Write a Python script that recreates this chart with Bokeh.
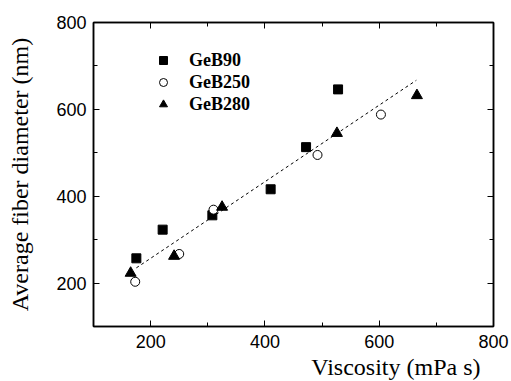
from bokeh.plotting import figure
from bokeh.models import (LinearAxis, Range1d, Legend, LegendItem, Title,
                          FixedTicker)
from bokeh.embed import file_html
from bokeh.resources import INLINE

# ---- data ----
geb90_x = [175, 221, 308, 410, 472, 528]
geb90_y = [257, 323, 356, 416, 513, 646]
geb250_x = [173, 250, 310, 492, 603]
geb250_y = [203, 267, 369, 495, 588]
geb280_x = [165, 241, 325, 526, 666]
geb280_y = [223, 262, 375, 545, 632]
fit_x = [175, 665]
fit_y = [235, 667]
x_ticks = [200, 400, 600, 800]
y_ticks = [200, 400, 600, 800]
minor = [100, 300, 500, 700]
x_label = "Viscosity (mPa s)"
y_label = "Average fiber diameter (nm)"

p = figure(width=511, height=381, output_backend="svg", toolbar_location=None,
           x_range=Range1d(100, 800), y_range=Range1d(100, 800),
           min_border_left=93, min_border_right=18, min_border_top=22,
           min_border_bottom=55, x_axis_location=None, y_axis_location=None)
p.grid.visible = False
p.outline_line_color = "black"
p.outline_line_width = 1.5

def make_axis(ticks, show_labels):
    ax = LinearAxis(ticker=FixedTicker(ticks=ticks, minor_ticks=minor))
    ax.axis_line_color = "black"
    ax.axis_line_width = 1.5
    ax.major_tick_in = 6
    ax.major_tick_out = 0
    ax.minor_tick_in = 4
    ax.minor_tick_out = 0
    ax.major_tick_line_color = "black"
    ax.minor_tick_line_color = "black"
    ax.major_label_text_font = "Liberation Sans"
    ax.major_label_text_font_size = "18px"
    ax.major_label_text_color = "black"
    if not show_labels:
        ax.major_label_text_font_size = "0px"
        ax.major_label_text_color = None
        ax.major_label_standoff = 0
    return ax

xb = make_axis(x_ticks, True)
xb.major_label_standoff = 8
p.add_layout(xb, "below")
yl = make_axis(y_ticks, True)
yl.major_label_standoff = 7
yl.axis_label = y_label
yl.axis_label_text_font = "Liberation Serif"
yl.axis_label_text_font_style = "normal"
yl.axis_label_text_font_size = "24px"
yl.axis_label_text_color = "black"
yl.axis_label_standoff = 20
p.add_layout(yl, "left")
p.add_layout(make_axis(x_ticks, False), "above")
p.add_layout(make_axis(y_ticks, False), "right")

xt = Title(text=x_label, align="right", offset=13, standoff=2,
           text_font="Liberation Serif", text_font_size="24px",
           text_font_style="normal", text_color="black")
p.add_layout(xt, "below")

p.line(fit_x, fit_y, line_color="black", line_width=1, line_dash="3 3")
r1 = p.scatter(geb90_x, geb90_y, marker="square", size=9,
               fill_color="black", line_color="black")
r2 = p.scatter(geb250_x, geb250_y, marker="circle", size=9,
               fill_color="white", line_color="black", line_width=1)
r3 = p.scatter(geb280_x, geb280_y, marker="triangle", size=11,
               fill_color="black", line_color="black")

legend = Legend(items=[LegendItem(label="GeB90", renderers=[r1]),
                       LegendItem(label="GeB250", renderers=[r2]),
                       LegendItem(label="GeB280", renderers=[r3])],
                location=(60, 211))
legend.border_line_color = None
legend.background_fill_alpha = 0
legend.label_text_font = "Liberation Serif"
legend.label_text_font_style = "bold"
legend.label_text_font_size = "18px"
legend.label_text_color = "black"
legend.glyph_width = 20
legend.glyph_height = 22
legend.label_height = 22
legend.label_standoff = 16
legend.spacing = 0
legend.padding = 0
legend.margin = 0
p.add_layout(legend, "center")

open("out.html", "w").write(file_html(p, INLINE))
